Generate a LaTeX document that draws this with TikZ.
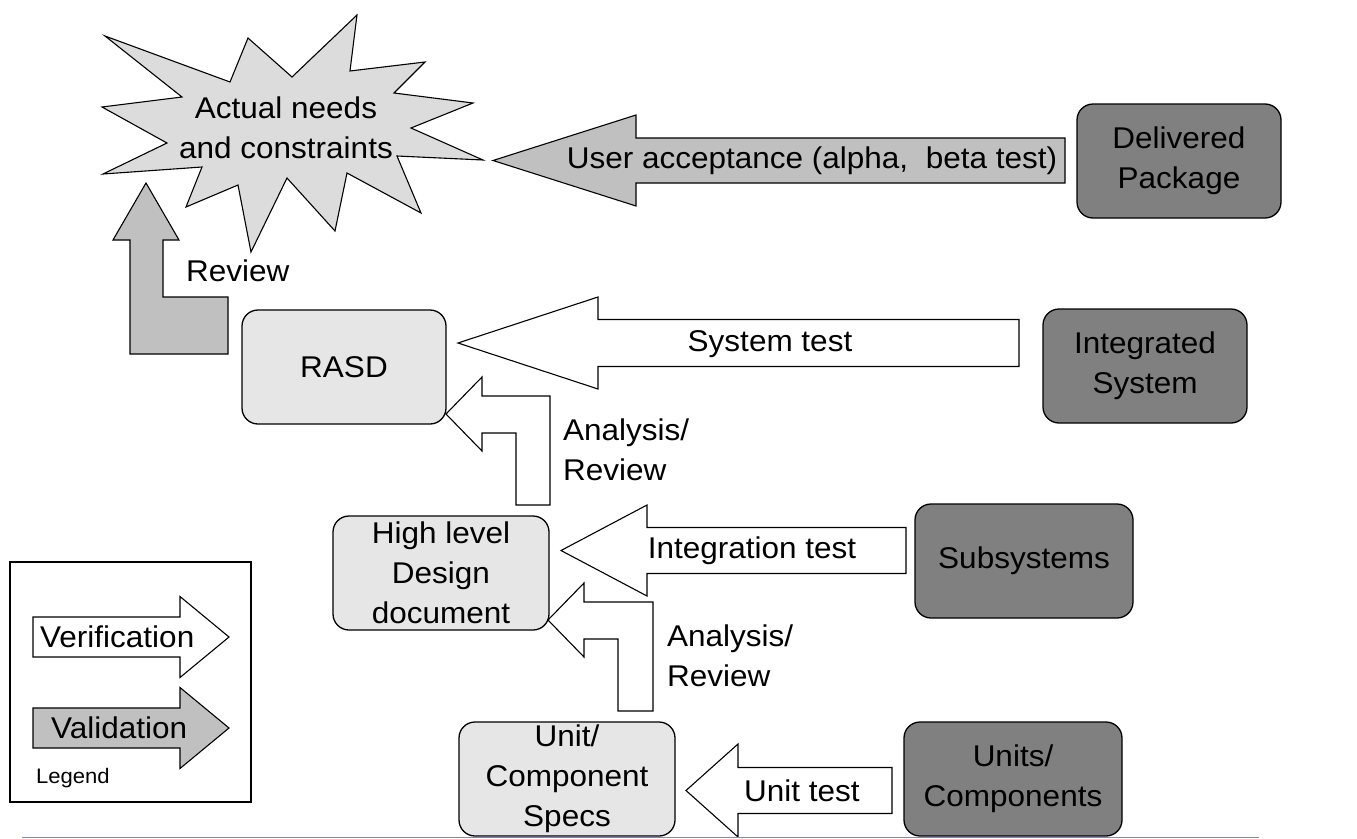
\documentclass[tikz,border=0pt]{standalone}
\usepackage{fontspec}
\setmainfont[FakeStretch=1.05]{Liberation Sans}
\usetikzlibrary{positioning}

\definecolor{burstgray}{HTML}{DCDCDC}
\definecolor{docgray}{HTML}{E6E6E6}
\definecolor{prodgray}{HTML}{808080}
\definecolor{valgray}{HTML}{C0C0C0}
\definecolor{rulecol}{HTML}{8484C8}

\begin{document}
\begin{tikzpicture}[x=1pt,y=-1pt,
		every node/.style={font=\fontsize{30}{40}\selectfont, inner sep=0pt},
		docbox/.style={draw, line width=1.3pt, rounded corners=16pt, fill=docgray, align=center, minimum height=114pt},
		prodbox/.style={docbox, fill=prodgray},
		blockarrow/.style={draw, line width=1.1pt, line join=miter}]
		\useasboundingbox (0,0) rectangle (1357,838);
		
		% the starburst with the actual needs
		\draw[blockarrow, fill=burstgray] (105,36) -- (230,82) -- (248,38) -- (292,77) -- (357,15) -- (350,71)
			-- (425,62) -- (394,93) -- (473,103) -- (411,128) -- (483,160) -- (397,156) -- (421,213)
			-- (347,173) -- (335,231) -- (287,178) -- (251,252) -- (238,185) -- (186,207) -- (202,167)
			-- (103,174) -- (167,143) -- (102,107) -- (182,97) -- cycle;
		\node[align=center] (needs) at (286,128) {Actual needs\\and constraints};
		
		% documents on the left, products on the right
		\node[docbox, minimum width=204pt] (rasd) at (344,367) {RASD};
		\node[docbox, minimum width=216pt] (hld) at (441,573) {High level\\Design\\document};
		\node[docbox, minimum width=216pt] (specs) at (567,779) {Unit/\\Component\\Specs};
		\node[prodbox, minimum width=204pt] (delivered) at (1179,161) {Delivered\\Package};
		\node[prodbox, minimum width=204pt] (integrated) at (1145,366) {Integrated\\System};
		\node[prodbox, minimum width=218pt] (subsystems) at (1024,561) {Subsystems};
		\node[prodbox, minimum width=218pt] (units) at (1013,779) {Units/\\Components};
		
		% straight arrows: tip x/tip y/head back/head half/shaft half/end/fill
		\foreach \tx/\ty/\bx/\hh/\sh/\ex/\col in {493/160.5/636/45.5/22.5/1065/valgray,
			458/343/598/46/23.5/1019/white, 561/550.5/647/45.5/23/906/white, 686/790.5/738/46.5/23/892/white} {
			\draw[blockarrow, fill=\col] (\tx,\ty) -- (\bx,{\ty-\hh}) -- (\bx,{\ty-\sh}) -- (\ex,{\ty-\sh})
				-- (\ex,{\ty+\sh}) -- (\bx,{\ty+\sh}) -- (\bx,{\ty+\hh}) -- cycle;
		}
		\node (useracc) at (812,161) {User acceptance (alpha,\ \ beta test)};
		\node (systest) at (770,344) {System test};
		\node (inttest) at (752,551) {Integration test};
		\node (unittest) at (802,791) {Unit test};
		
		% bent arrows
		\draw[blockarrow, fill=valgray] (146,183) -- (179,240) -- (163,240) -- (163,297) -- (228,297)
			-- (228,354) -- (130,354) -- (130,240) -- (113,240) -- cycle;
		\node[anchor=west] (review) at (186,271) {Review};
		\draw[blockarrow, fill=white] (446,414) -- (482,377) -- (482,396) -- (550,396) -- (550,505)
			-- (516,505) -- (516,433) -- (482,433) -- (482,451) -- cycle;
		\node[anchor=west, align=left] (anarev1) at (563,450) {Analysis/\\Review};
		\draw[blockarrow, fill=white] (548,620) -- (584,583) -- (584,602) -- (653,602) -- (653,711)
			-- (618,711) -- (618,639) -- (584,639) -- (584,657) -- cycle;
		\node[anchor=west, align=left] (anarev2) at (667,656) {Analysis/\\Review};
		
		% legend
		\draw[line width=2pt] (10,562) rectangle (251,802);
		\foreach \ay/\col in {637/white, 728/valgray} {
			\draw[blockarrow, fill=\col] (229,\ay) -- (180,{\ay-40.5}) -- (180,{\ay-20}) -- (33,{\ay-20})
				-- (33,{\ay+20}) -- (180,{\ay+20}) -- (180,{\ay+40.5}) -- cycle;
		}
		\node[anchor=west] (verif) at (40,637) {Verification};
		\node[anchor=west] (valid) at (51,728) {Validation};
		\node[anchor=west, font=\fontsize{21}{25}\selectfont] (legend) at (36,778) {Legend};
		
		% rule at the bottom
		\draw[rulecol, line width=1pt] (22,837) -- (1259,837);
\end{tikzpicture}
\end{document}
